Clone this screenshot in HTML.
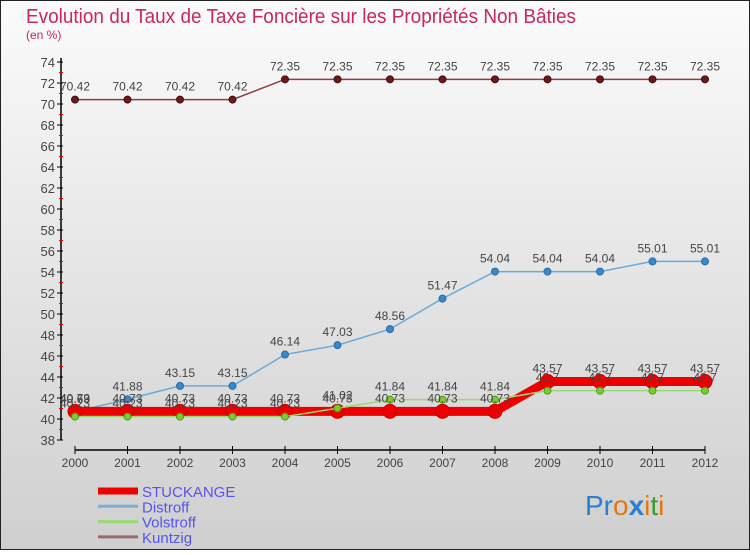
<!DOCTYPE html>
<html><head><meta charset="utf-8">
<style>
html,body{margin:0;padding:0}
body{width:750px;height:550px;overflow:hidden;font-family:"Liberation Sans",sans-serif}
svg text{font-family:"Liberation Sans",sans-serif}
</style></head>
<body>
<svg id="chart" width="750" height="550" xmlns="http://www.w3.org/2000/svg">
<defs>
<linearGradient id="bg" x1="0" y1="0" x2="0" y2="1">
<stop offset="0" stop-color="#fbfbfb"/><stop offset="1" stop-color="#cfcfcf"/>
</linearGradient>
</defs>
<rect x="0.5" y="0.5" width="749" height="549" fill="url(#bg)" stroke="#222" stroke-width="1"/>
<text x="26" y="23" font-size="20" fill="#c8285a" textLength="550" lengthAdjust="spacingAndGlyphs">Evolution du Taux de Taxe Foncière sur les Propriétés Non Bâties</text>
<text x="26" y="39" font-size="12" fill="#c8285a">(en %)</text>
<g id="axes"></g>
<g id="series"></g>
<g id="labels"></g>
<g id="legend"></g>
<text x="585" y="515" font-size="28" font-family="DejaVu Sans, sans-serif"><tspan fill="#2a7fd0">Pr</tspan><tspan fill="#e07a10">o</tspan><tspan fill="#2a7fd0" font-weight="bold">x</tspan><tspan fill="#e07a10">i</tspan><tspan fill="#3a9a30">t</tspan><tspan fill="#e07a10">i</tspan></text>
</svg>
<script>
const years = [2000,2001,2002,2003,2004,2005,2006,2007,2008,2009,2010,2011,2012];
const stuckange = [40.73,40.73,40.73,40.73,40.73,40.73,40.73,40.73,40.73,43.57,43.57,43.57,43.57];
const distroff = [40.69,41.88,43.15,43.15,46.14,47.03,48.56,51.47,54.04,54.04,54.04,55.01,55.01];
const volstroff = [40.23,40.23,40.23,40.23,40.23,41.02,41.84,41.84,41.84,42.7,42.7,42.7,42.7];
const kuntzig = [70.42,70.42,70.42,70.42,72.35,72.35,72.35,72.35,72.35,72.35,72.35,72.35,72.35];
const yTicks = [38,40,42,44,46,48,50,52,54,56,58,60,62,64,66,68,70,72,74];
const seriesNames = ["STUCKANGE","Distroff","Volstroff","Kuntzig"];

const NS="http://www.w3.org/2000/svg";
function X(i){return 75+i*(705-75)/(years.length-1);}
function Y(v){return 440-(v-38)*10.5;}
function mk(tag,attrs,parent){const e=document.createElementNS(NS,tag);for(const k in attrs)e.setAttribute(k,attrs[k]);parent.appendChild(e);return e;}
const axes=document.getElementById('axes'),ser=document.getElementById('series'),lab=document.getElementById('labels'),leg=document.getElementById('legend');

let ya=mk('line',{x1:61,y1:Y(74)-4,x2:61,y2:Y(38),stroke:'#000','stroke-width':1.5},axes);


yTicks.forEach(t=>{
  mk('line',{x1:57,y1:Y(t),x2:63,y2:Y(t),stroke:'#000'},axes);
  const tx=mk('text',{x:55,y:Y(t)+5,'font-size':13,fill:'#444','text-anchor':'end'},axes);
  tx.textContent=t;
  
  
  if(t<74) mk('line',{x1:59,y1:Y(t+1),x2:63,y2:Y(t+1),stroke:'#e00'},axes);
});
let xa=mk('line',{x1:75,y1:450,x2:705,y2:450,stroke:'#000','stroke-width':1.5},axes);


years.forEach((yr,i)=>{
  mk('line',{x1:X(i),y1:446,x2:X(i),y2:454,stroke:'#000'},axes);
  const tx=mk('text',{x:X(i),y:467,'font-size':12,fill:'#444','text-anchor':'middle'},axes);
  tx.textContent=yr;
  
  
});

function draw(vals,name,color,dot,dotStroke,w,r){
  const pts=vals.map((v,i)=>X(i)+','+Y(v)).join(' ');
  const pl=mk('polyline',{points:pts,fill:'none',stroke:color,'stroke-width':w},ser);
  
  
  vals.forEach((v,i)=>{
    const c=mk('circle',{cx:X(i),cy:Y(v),r:r,fill:dot,stroke:dotStroke,'stroke-width':1},ser);
    
    
    const t=mk('text',{x:X(i),y:Y(v)-9,'font-size':12,fill:'#444','text-anchor':'middle'},lab);
    t.textContent=String(v);
    
    
  });
}
draw(kuntzig,'kuntzig','#8a4040','#6a1a1a','#4a0a0a',1.5,3.5);
draw(distroff,'distroff','#6aaad8','#3a88cc','#2a6aa0',1.5,3.5);
draw(stuckange,'stuckange','#ee0000','#ee0000','#cc0000',9,7);
draw(volstroff,'volstroff','#9ad870','#7acc30','#4a9a20',1.5,3.5);

const legColors=['#ee0000','#7aaed6','#9ad870','#9a6a6a'];
const legW=[7,3,3,3];
seriesNames.forEach((n,i)=>{
  const y=491+i*15.3;
  const l=mk('line',{x1:98,y1:y,x2:138,y2:y,stroke:legColors[i],'stroke-width':legW[i]},leg);
  
  
  const t=mk('text',{x:142,y:y+6,'font-size':15,fill:'#5555ee'},leg);
  t.textContent=n;
  
  
});
</script>
</body></html>
